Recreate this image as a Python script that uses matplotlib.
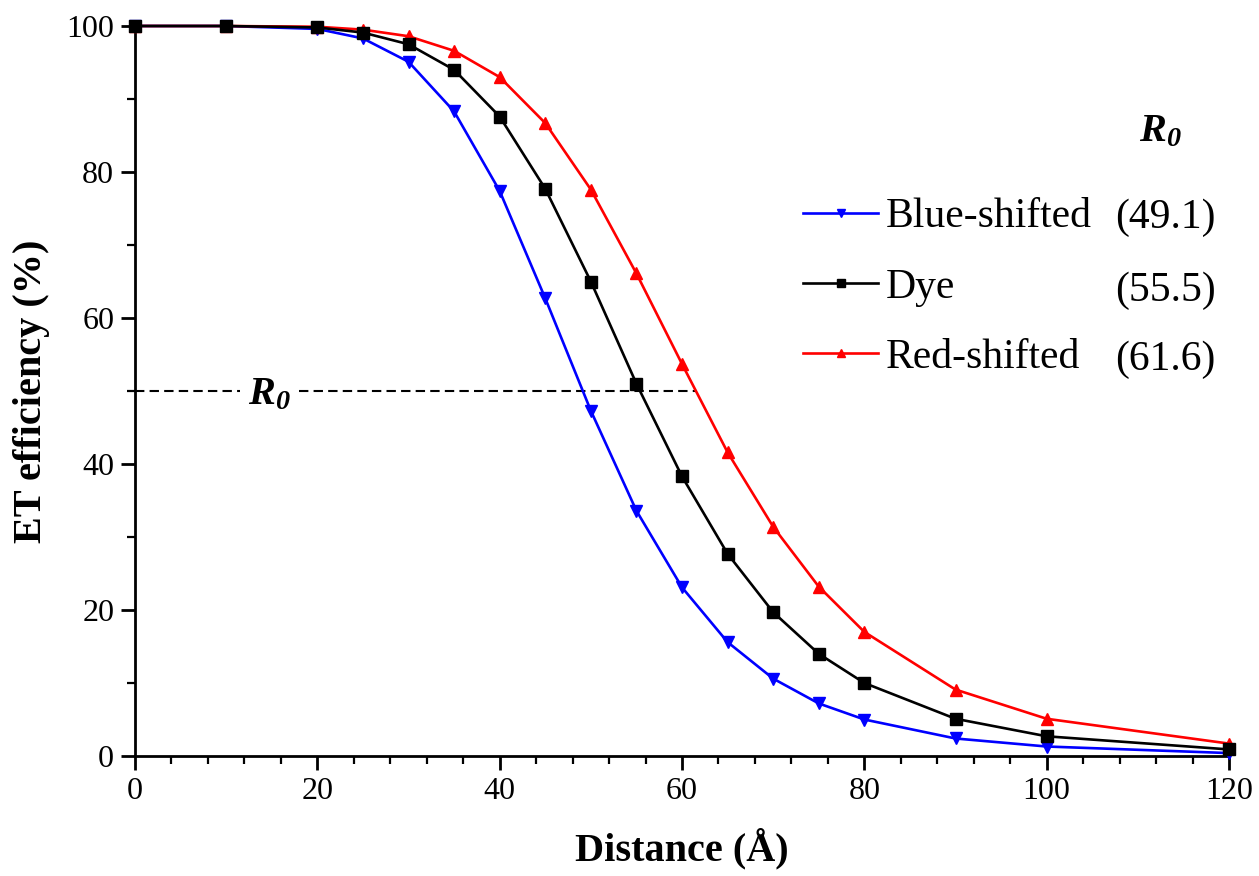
import matplotlib
matplotlib.use("Agg")
import matplotlib.pyplot as plt
from matplotlib.ticker import MultipleLocator

distance = [0, 10, 20, 25, 30, 35, 40, 45, 50, 55, 60, 65, 70, 75, 80, 90, 100, 120]
blue = [100, 100, 99.6, 98.3, 95.1, 88.3, 77.4, 62.7, 47.3, 33.6, 23.1, 15.6, 10.6, 7.2, 5.0, 2.4, 1.3, 0.4]
dye = [100, 100, 99.8, 99.1, 97.5, 94.0, 87.6, 77.7, 65.0, 51.0, 38.3, 27.7, 19.7, 14.0, 10.0, 5.1, 2.7, 0.9]
red = [100, 100, 99.9, 99.5, 98.6, 96.6, 93.0, 86.7, 77.6, 66.1, 53.7, 41.6, 31.4, 23.2, 17.0, 9.1, 5.1, 1.7]
names = ["Blue-shifted", "Dye", "Red-shifted"]
r0_values = ["(49.1)", "(55.5)", "(61.6)"]
r0_red = 61.6

plt.rcParams['font.family'] = ['Liberation Serif', 'DejaVu Serif']
plt.rcParams['mathtext.fontset'] = 'custom'
plt.rcParams['mathtext.rm'] = 'Liberation Serif'
plt.rcParams['mathtext.it'] = 'Liberation Serif:italic'
plt.rcParams['mathtext.bf'] = 'Liberation Serif:bold'
plt.rcParams['mathtext.bfit'] = 'Liberation Serif:bold:italic'

R0 = r'$\mathbfit{R}_{\mathbfit{0}}$'

fig = plt.figure(figsize=(12.59, 8.76), dpi=100)
ax = fig.add_axes([135/1259, 1-756/876, 1094/1259, 730/876])

lw = 1.9
ms = 8
l1, = ax.plot(distance, blue, color='#0000ff', marker='v', ms=ms, lw=lw, clip_on=False, zorder=3)
l2, = ax.plot(distance, dye, color='black', marker='s', ms=ms, lw=lw, clip_on=False, zorder=5)
l3, = ax.plot(distance, red, color='#ff0000', marker='^', ms=ms, lw=lw, clip_on=False, zorder=4)

# dashed R0 line with gap for label
dash = (0, (4.5, 2.5))
ax.plot([0, 11.5], [50, 50], ls=dash, color='black', lw=1.5, zorder=2)
ax.plot([18.0, r0_red], [50, 50], ls=dash, color='black', lw=1.5, zorder=2)
ax.text(14.8, 49.5, R0, fontsize=29, ha='center', va='center')

ax.set_xlim(0, 120)
ax.set_ylim(0, 100)
ax.xaxis.set_major_locator(MultipleLocator(20))
ax.xaxis.set_minor_locator(MultipleLocator(4))
ax.yaxis.set_major_locator(MultipleLocator(20))
ax.yaxis.set_minor_locator(MultipleLocator(10))
for s in ['top', 'right']:
    ax.spines[s].set_visible(False)
for s in ['left', 'bottom']:
    ax.spines[s].set_linewidth(2.0)
ax.tick_params(which='major', direction='out', length=10, width=2.0, labelsize=23, pad=5)
ax.tick_params(which='minor', direction='out', length=5.8, width=1.6)

ax.set_xlabel('Distance (Å)', fontsize=29, fontweight='bold', labelpad=16)
ax.set_ylabel('ET efficiency (%)', fontsize=29, fontweight='bold', labelpad=12)

leg = ax.legend([l1, l2, l3], names, loc='center left', bbox_to_anchor=(0.611, 0.642),
                frameon=False, fontsize=30, handlelength=1.78, handletextpad=0.2,
                labelspacing=0.76, markerscale=0.75, borderaxespad=0, borderpad=0)
ax.text(0.957, 0.855, R0, transform=ax.transAxes, fontsize=29,
        ha='right', va='center')
for i, v in enumerate(r0_values):
    ax.text(0.988, [0.737, 0.638, 0.543][i], v, transform=ax.transAxes, fontsize=30,
            ha='right', va='center')

fig.savefig('out.png', dpi=100)
